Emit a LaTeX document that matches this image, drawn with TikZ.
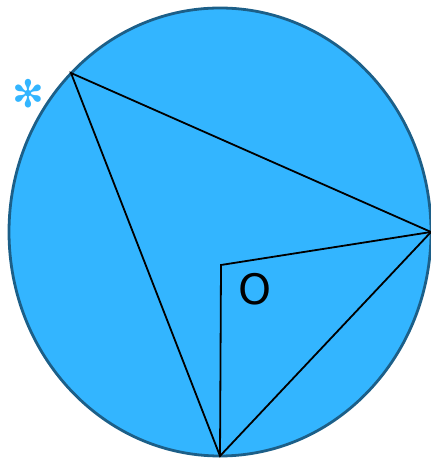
\documentclass[tikz,border=0pt]{standalone}
\usepackage{fontspec}
\setmainfont{DejaVu Sans}
\newfontfamily\symfont{DejaVu Sans}
\definecolor{skyfill}{HTML}{33B5FF}
\definecolor{rimblue}{HTML}{1C5F88}
\tikzset{
  disc/.style={fill=skyfill, draw=rimblue, line width=1.4pt},
  chord/.style={draw=black, line width=0.9pt, line join=miter},
  lbl/.style={font=\fontsize{21}{24}\selectfont, inner sep=0pt},
  starmark/.style={font=\symfont\fontsize{19}{22}\selectfont, text=skyfill, inner sep=0pt},
}
\begin{document}
\begin{tikzpicture}[x=0.5pt,y=0.5pt]
\useasboundingbox (0,0) rectangle (431,458);

% the circle
\path[disc] (220,226) ellipse [x radius=211, y radius=224];

% points on it
\coordinate (A) at (71,385);
\coordinate (B) at (431,226);
\coordinate (C) at (220,2);
\coordinate (O) at (221,193);

\draw[chord] (A) -- (B) -- (C) -- cycle;
\draw[chord] (B) -- (O) -- (C);

\node[lbl] (olbl) at (255,169) {O};
\node[starmark] (star) at (28,364) {✻};
\end{tikzpicture}
\end{document}
